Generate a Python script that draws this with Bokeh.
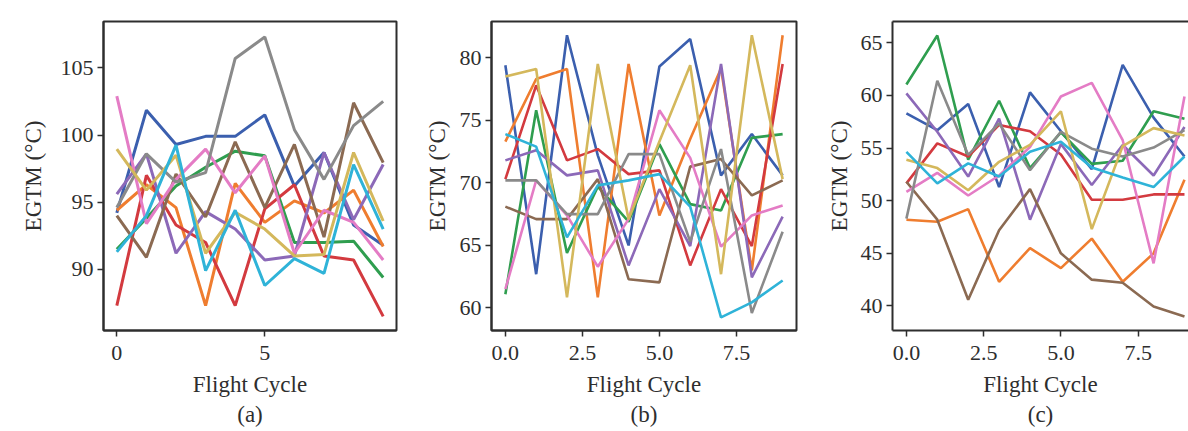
from bokeh.plotting import figure
from bokeh.layouts import row
from bokeh.models import Range1d, FixedTicker, LinearAxis, PrintfTickFormatter
from bokeh.embed import file_html
from bokeh.resources import INLINE

cycles = [0, 1, 2, 3, 4, 5, 6, 7, 8, 9]

# Panel (a)
a_blue = [94.2, 101.85, 99.3, 99.9, 99.9, 101.5, 96.2, 98.7, 93.3, 91.8]
a_orange = [94.4, 96.3, 94.6, 87.3, 96.4, 93.5, 95.1, 94.2, 95.9, 91.7]
a_green = [91.5, 93.8, 96.2, 97.6, 98.8, 98.45, 92.0, 92.0, 92.1, 89.4]
a_red = [87.3, 97.0, 93.3, 92.0, 87.3, 94.5, 96.3, 91.0, 90.7, 86.5]
a_purple = [95.6, 98.6, 91.2, 94.3, 93.0, 90.7, 91.0, 98.7, 93.7, 97.8]
a_brown = [94.0, 90.9, 97.1, 93.9, 99.5, 94.6, 99.3, 92.4, 102.4, 97.95]
a_pink = [102.9, 93.4, 96.7, 98.95, 95.7, 98.45, 91.2, 94.4, 93.5, 90.7]
a_gray = [94.6, 98.6, 96.5, 97.2, 105.7, 107.3, 100.4, 96.7, 100.7, 102.5]
a_yellow = [98.95, 95.9, 98.5, 91.2, 94.25, 93.0, 91.0, 91.1, 98.7, 93.6]
a_cyan = [91.3, 94.0, 99.25, 89.9, 94.4, 88.8, 90.8, 89.7, 97.8, 93.0]

# Panel (b)
b_blue = [79.4, 62.7, 81.8, 72.2, 65.0, 79.3, 81.5, 70.6, 73.9, 70.6]
b_orange = [73.3, 78.3, 79.1, 60.85, 79.5, 67.4, 73.5, 79.15, 63.0, 81.8]
b_green = [61.1, 75.8, 64.4, 69.7, 66.9, 73.1, 68.3, 67.8, 73.6, 73.9]
b_red = [70.3, 77.8, 71.8, 72.7, 70.7, 71.0, 63.4, 69.5, 64.95, 79.5]
b_purple = [71.8, 72.6, 70.6, 71.0, 63.4, 69.5, 64.95, 79.5, 62.45, 67.3]
b_brown = [68.1, 67.1, 67.1, 70.3, 62.3, 62.05, 71.3, 71.9, 69.0, 70.2]
b_pink = [61.5, 70.2, 67.4, 63.3, 67.1, 75.8, 72.0, 64.9, 67.4, 68.2]
b_gray = [70.2, 70.2, 67.5, 67.5, 72.3, 72.3, 65.3, 72.7, 59.6, 66.1]
b_yellow = [78.5, 79.1, 60.85, 79.5, 67.1, 73.3, 79.4, 62.7, 81.8, 70.3]
b_cyan = [73.9, 72.9, 65.65, 69.8, 70.2, 70.7, 68.1, 59.25, 60.45, 62.2]

# Panel (c)
c_blue = [58.3, 56.7, 59.2, 51.3, 60.3, 56.6, 53.0, 62.9, 57.9, 54.2]
c_orange = [48.2, 48.0, 49.2, 42.3, 45.5, 43.6, 46.4, 42.3, 45.0, 52.0]
c_green = [61.05, 65.7, 53.9, 59.5, 53.1, 56.5, 53.5, 53.8, 58.5, 57.8]
c_red = [51.65, 55.45, 54.2, 57.2, 56.6, 54.4, 50.1, 50.1, 50.6, 50.6]
c_purple = [60.2, 56.55, 52.3, 57.8, 48.2, 55.4, 51.5, 55.3, 52.4, 57.0]
c_brown = [51.8, 48.2, 40.6, 47.2, 51.1, 45.0, 42.5, 42.2, 39.95, 39.0]
c_pink = [50.85, 52.65, 50.5, 52.4, 55.1, 59.9, 61.2, 55.75, 44.05, 59.9]
c_gray = [48.3, 61.4, 54.35, 57.35, 52.9, 56.55, 54.95, 54.2, 55.05, 56.7]
c_yellow = [53.9, 53.1, 51.0, 53.7, 55.3, 58.5, 47.3, 55.2, 56.9, 56.2]
c_cyan = [54.65, 51.65, 53.55, 52.3, 54.65, 55.6, 53.15, 52.2, 51.3, 54.2]

colors = ["#3b5fae", "#ef7d2f", "#2f9e4f", "#d33a3f", "#8c69b8",
          "#8b6a52", "#e47cc5", "#8a8a8a", "#d4b85c", "#2fb3d8"]

a_ticks_y = [90, 95, 100, 105]
b_ticks_y = [60, 65, 70, 75, 80]
c_ticks_y = [40, 45, 50, 55, 60, 65]
a_ticks_x = [0, 5]
bc_ticks_x = [0, 2.5, 5, 7.5]

FONT = "Liberation Serif"
INK = "#2e2e2e"


def make_panel(series, yr, x_end, yticks, xticks, xfmt, width, mbl, mbr,
               lw, tag, lab_standoff, outline=True):
    p = figure(width=width, height=431,
               x_range=Range1d(-0.45, x_end), y_range=Range1d(*yr),
               output_backend="svg", toolbar_location=None,
               min_border_left=mbl, min_border_right=mbr,
               min_border_top=21, min_border_bottom=101,
               background_fill_color="white", border_fill_color="white")
    p.xgrid.visible = False
    p.ygrid.visible = False
    for s, c in zip(series, colors):
        p.line(cycles, s, line_color=c, line_width=lw)
    xa = p.below[0]
    ya = p.left[0]
    for ax in (xa, ya):
        ax.axis_line_color = INK
        ax.axis_line_width = 2
        ax.major_tick_line_color = INK
        ax.major_tick_line_width = 1.5
        ax.major_tick_out = 6
        ax.major_tick_in = 0
        ax.minor_tick_line_color = None
        ax.major_label_text_font = FONT
        ax.major_label_text_font_size = "22px"
        ax.major_label_text_color = INK
        ax.axis_label_text_font = FONT
        ax.axis_label_text_font_size = "23px"
        ax.axis_label_text_font_style = "normal"
        ax.axis_label_text_color = INK
    ya.major_label_standoff = 4
    xa.major_label_standoff = 9
    ya.ticker = FixedTicker(ticks=yticks)
    xa.ticker = FixedTicker(ticks=xticks)
    xa.formatter = PrintfTickFormatter(format=xfmt)
    ya.axis_label = "EGTM (°C)"
    ya.axis_label_standoff = lab_standoff
    xa.axis_label = "Flight Cycle\n" + tag
    xa.axis_label_standoff = 9
    xa.axis_label_text_line_height = 1.2
    if outline:
        p.outline_line_color = INK
        p.outline_line_width = 2
    else:
        p.outline_line_color = None
        top = LinearAxis(ticker=FixedTicker(ticks=[]), axis_label=None,
                         major_label_text_font_size="0px",
                         major_label_standoff=0,
                         axis_line_color=INK, axis_line_width=2,
                         major_tick_out=0, major_tick_in=0,
                         minor_tick_out=0, minor_tick_in=0)
        p.add_layout(top, "above")
    return p


pa = make_panel([a_blue, a_orange, a_green, a_red, a_purple, a_brown, a_pink,
                 a_gray, a_yellow, a_cyan],
                (85.45, 108.45), 9.45, a_ticks_y, a_ticks_x, "%d",
                420, 103, 24, 3.0, "(a)", 12)
pb = make_panel([b_blue, b_orange, b_green, b_red, b_purple, b_brown, b_pink,
                 b_gray, b_yellow, b_cyan],
                (58.2, 82.9), 9.45, b_ticks_y, bc_ticks_x, "%.1f",
                392, 71, 16, 2.6, "(b)", 7)
pc = make_panel([c_blue, c_orange, c_green, c_red, c_purple, c_brown, c_pink,
                 c_gray, c_yellow, c_cyan],
                (37.67, 67.03), 9.13, c_ticks_y, bc_ticks_x, "%.1f",
                376, 80, 0, 2.6, "(c)", 6, outline=False)

layout = row(pa, pb, pc)
open("out.html", "w").write(file_html(layout, INLINE))
